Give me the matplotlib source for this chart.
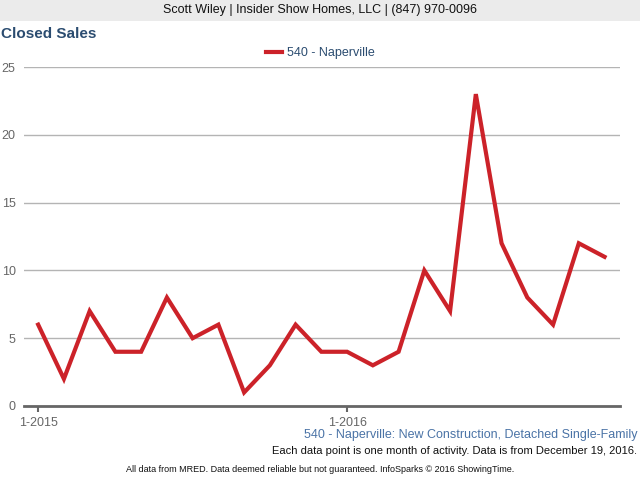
import matplotlib
matplotlib.use("Agg")
import matplotlib.pyplot as plt
from matplotlib.patches import Rectangle

plt.rcParams['font.family'] = ['Liberation Sans', 'DejaVu Sans']

# Closed sales per month, 1-2015 .. 11-2016
months = ['1-2015', '2-2015', '3-2015', '4-2015', '5-2015', '6-2015', '7-2015', '8-2015',
          '9-2015', '10-2015', '11-2015', '12-2015', '1-2016', '2-2016', '3-2016', '4-2016',
          '5-2016', '6-2016', '7-2016', '8-2016', '9-2016', '10-2016', '11-2016']
sales = [6, 2, 7, 4, 4, 8, 5, 6, 1, 3, 6, 4, 4, 3, 4, 10, 7, 23, 12, 8, 6, 12, 11]
tick_labels = ['1-2015', '1-2016']
y_ticks = [0, 5, 10, 15, 20, 25]

fig = plt.figure(figsize=(6.4, 4.8), dpi=100)

# header band
fig.patches.append(Rectangle((0, 480 - 21), 640, 21, transform=None,
                             facecolor='#ebebeb', edgecolor='none', zorder=0))
fig.text(0.5, 1 - 10/480, 'Scott Wiley | Insider Show Homes, LLC | (847) 970-0096',
         ha='center', va='center', fontsize=9, color='#111111')
fig.text(1/640, 1 - 34/480, 'Closed Sales', ha='left', va='center', fontsize=11,
         fontweight='bold', color='#2b4c70')

ax = fig.add_axes([24/640, 1 - 406/480, 596/640, 339/480])
x = list(range(len(months)))
ax.plot(x, sales, color='#cc2229', linewidth=3, solid_joinstyle='miter',
        label='540 - Naperville', zorder=3)

ax.set_xlim(-0.55, 22.6)
ax.set_ylim(0, 25)
ax.set_yticks(y_ticks)
ax.set_xticks([months.index(t) for t in tick_labels])
ax.set_xticklabels(tick_labels)
ax.grid(axis='y', color='#b4b4b4', linewidth=1)
for s in ['top', 'right', 'left']:
    ax.spines[s].set_visible(False)
ax.spines['bottom'].set_color('#666666')
ax.spines['bottom'].set_linewidth(2)
ax.tick_params(axis='y', length=0, labelsize=9, labelcolor='#666666', pad=6)
ax.tick_params(axis='x', length=4, width=1.5, color='#666666', labelsize=9,
               labelcolor='#666666', pad=4)
ax.set_axisbelow(True)

leg = fig.legend(loc='center', bbox_to_anchor=(0.5, 1 - 53/480), frameon=False,
                 fontsize=9, handlelength=1.3, handletextpad=0.4)
for t in leg.get_texts():
    t.set_color('#2b4c70')

fig.text(637/640, 1 - 435/480, '540 - Naperville: New Construction, Detached Single-Family',
         ha='right', va='center', fontsize=9, color='#4a73a6')
fig.text(637/640, 1 - 451/480,
         'Each data point is one month of activity. Data is from December 19, 2016.',
         ha='right', va='center', fontsize=8, color='#111111')
fig.text(0.5, 1 - 469/480,
         'All data from MRED. Data deemed reliable but not guaranteed. InfoSparks \u00a9 2016 ShowingTime.',
         ha='center', va='center', fontsize=6.5, color='#111111')

fig.savefig('out.png', dpi=100)
